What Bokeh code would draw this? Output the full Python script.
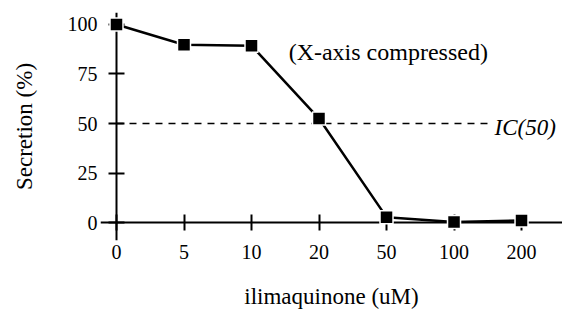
from bokeh.plotting import figure
from bokeh.models import FixedTicker, Label, Range1d, LinearAxis
from bokeh.embed import file_html
from bokeh.resources import INLINE

conc_labels = ["0", "5", "10", "20", "50", "100", "200"]
secretion = [100, 89.8, 89.3, 52.5, 2.7, 0.2, 1.0]
y_ticks = [0, 25, 50, 75, 100]
ic50 = 50
ic50_line_x = [0, 5.58]

xs = list(range(len(conc_labels)))
FONT = "Liberation Serif"

p = figure(width=562, height=316, output_backend="svg", toolbar_location=None,
           x_range=Range1d(-0.237, 6.607), y_range=Range1d(-9.09, 106.06),
           min_border_left=100, min_border_right=0, min_border_top=12, min_border_bottom=76)
p.outline_line_color = None
p.grid.grid_line_color = None

# label-only axes at frame edges
for ax in (p.xaxis[0], p.yaxis[0]):
    ax.axis_line_color = None
    ax.major_tick_line_color = None
    ax.minor_tick_line_color = None
    ax.major_tick_in = 0
    ax.major_tick_out = 0
    ax.major_label_text_font = FONT
    ax.major_label_text_font_size = "20px"
    ax.major_label_text_color = "black"
    ax.axis_label_text_font = FONT
    ax.axis_label_text_font_size = "23px"
    ax.axis_label_text_font_style = "normal"
    ax.axis_label_text_color = "black"

p.xaxis.ticker = FixedTicker(ticks=xs)
p.xaxis.major_label_overrides = {i: s for i, s in enumerate(conc_labels)}
p.yaxis.ticker = FixedTicker(ticks=y_ticks)
p.xaxis.major_label_standoff = 4
p.yaxis.major_label_standoff = 3
p.xaxis.axis_label = "ilimaquinone (uM)"
p.yaxis.axis_label = "Secretion (%)"
p.xaxis.axis_label_standoff = 22
p.yaxis.axis_label_standoff = 28

# line+tick axes crossing at the data origin
for ticks, side in ((xs, "below"), (y_ticks, "left")):
    ax = LinearAxis(fixed_location=0, ticker=FixedTicker(ticks=ticks))
    ax.axis_line_width = 2
    ax.axis_line_color = "black"
    ax.major_tick_line_width = 2
    ax.major_tick_line_color = "black"
    ax.major_tick_in = 8
    ax.major_tick_out = 8
    ax.minor_tick_line_color = None
    ax.major_label_text_font_size = "0px"
    ax.major_label_text_color = None
    p.add_layout(ax, side)

p.line(ic50_line_x, [ic50, ic50], line_dash="7 6", line_width=1.5, line_color="black")

p.line(xs, secretion, line_color="black", line_width=2.5, level="overlay")
p.scatter(xs, secretion, marker="square", size=13, fill_color="black",
          line_color="white", line_width=1.5, level="overlay")

p.add_layout(Label(x=2.55, y=86, text="(X-axis compressed)", text_font=FONT,
                   text_font_size="24px", text_baseline="middle", text_color="black"))
p.add_layout(Label(x=5.6, y=ic50 - 2, text="IC(50)", text_font=FONT,
                   text_font_style="italic", text_font_size="23px", text_baseline="middle",
                   text_color="black"))

open("out.html", "w").write(file_html(p, INLINE))
